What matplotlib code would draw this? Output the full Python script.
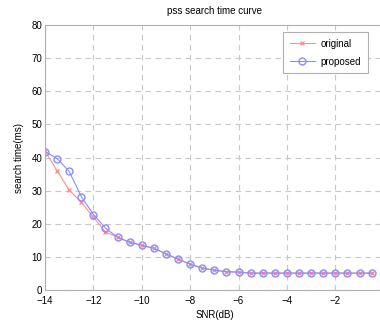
import matplotlib
matplotlib.use('Agg')
import matplotlib.pyplot as plt

# SNR sweep and measured search times
snr = [-14, -13.5, -13, -12.5, -12, -11.5, -11, -10.5, -10, -9.5, -9, -8.5, -8, -7.5,
       -7, -6.5, -6, -5.5, -5, -4.5, -4, -3.5, -3, -2.5, -2, -1.5, -1, -0.5]
original = [42, 36, 30.2, 26.5, 22, 17.5, 16, 14.4, 13.5, 12.6, 10.9, 9.3, 7.8, 6.6,
            6.0, 5.5, 5.4, 5.1, 5.1, 5.1, 5.1, 5.1, 5.1, 5.1, 5.1, 5.1, 5.1, 5.1]
proposed = [41.8, 39.7, 35.8, 28.2, 22.8, 18.7, 15.9, 14.4, 13.5, 12.6, 10.9, 9.3, 7.8, 6.6,
            6.0, 5.5, 5.4, 5.1, 5.1, 5.1, 5.1, 5.1, 5.1, 5.1, 5.1, 5.1, 5.1, 5.1]
xticks = [-14, -12, -10, -8, -6, -4, -2]
yticks = [0, 10, 20, 30, 40, 50, 60, 70, 80]

plt.rcParams['font.family'] = ['Liberation Sans', 'DejaVu Sans']

fig = plt.figure(figsize=(3.8, 3.22), dpi=100)
ax = fig.add_axes([0.1184, 0.0994, 0.8916, 0.8226])

ax.plot(snr, original, color='#ff9090', marker='x', markersize=3, linewidth=0.8,
        label='original')
ax.plot(snr, proposed, color='#8c8cff', marker='o', markersize=5, markerfacecolor='none',
        linewidth=0.8, label='proposed')

ax.set_xlim(-14, 0)
ax.set_ylim(0, 80)
ax.set_xticks(xticks)
ax.set_yticks(yticks)
ax.tick_params(labelsize=7, length=0)
ax.tick_params(axis='x', pad=4)
ax.tick_params(axis='y', pad=2)
ax.grid(True, color='#c8c8c8', linestyle=(0, (5, 4)), linewidth=0.8)
for s in ax.spines.values():
    s.set_color('#b0b0b0')
    s.set_linewidth(0.8)

ax.set_title('pss search time curve', fontsize=7, pad=8)
ax.set_xlabel('SNR(dB)', fontsize=7, labelpad=3)
ax.set_ylabel('search time(ms)', fontsize=7, labelpad=5)

leg = ax.legend(loc='upper right', bbox_to_anchor=(0.968, 0.992), fontsize=7, fancybox=False,
                framealpha=1, edgecolor='#b0b0b0', handlelength=2.6, borderpad=0.7,
                labelspacing=0.8, handletextpad=0.6)
leg.get_frame().set_linewidth(0.8)

plt.savefig('out.png', dpi=100)
